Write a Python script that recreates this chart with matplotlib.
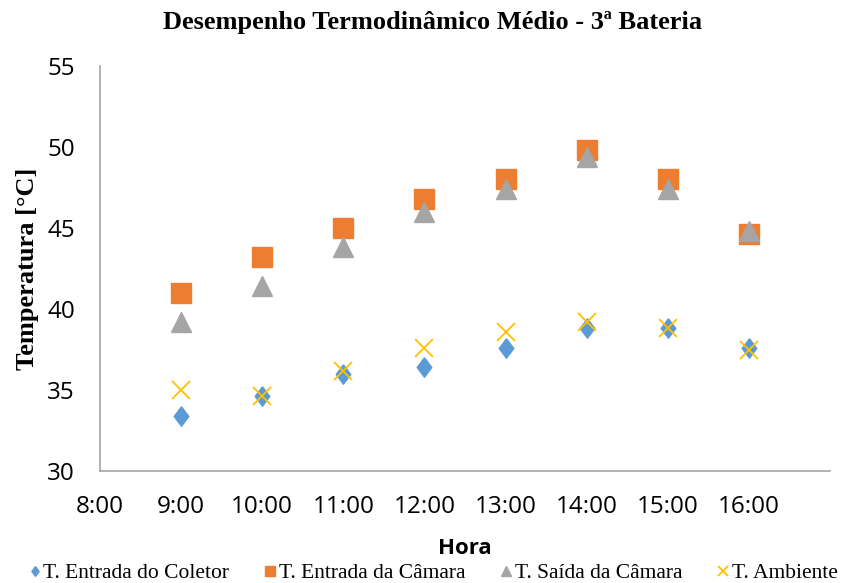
import numpy as np
import matplotlib
matplotlib.use("Agg")
import matplotlib.pyplot as plt

# dados (horas e temperaturas em °C)
horas = [9, 10, 11, 12, 13, 14, 15, 16]
t_entrada_coletor = [33.4, 34.6, 36.0, 36.4, 37.6, 38.8, 38.8, 37.6]
t_entrada_camara = [41.0, 43.2, 45.0, 46.8, 48.0, 49.8, 48.0, 44.6]
t_saida_camara = [39.2, 41.4, 43.8, 46.0, 47.4, 49.4, 47.4, 44.8]
t_ambiente = [35.0, 34.6, 36.2, 37.6, 38.6, 39.2, 38.8, 37.5]

rotulos_x = ['8:00', '9:00', '10:00', '11:00', '12:00', '13:00', '14:00', '15:00', '16:00']
ticks_x = [8, 9, 10, 11, 12, 13, 14, 15, 16]
ticks_y = [30, 35, 40, 45, 50, 55]

azul = '#5B9BD5'
laranja = '#ED7D31'
cinza = '#A5A5A5'
amarelo = '#FFC000'

serif = ['Liberation Serif', 'DejaVu Serif']
sans = ['Open Sans', 'DejaVu Sans']

losango = [(0, 1), (0.75, 0), (0, -1), (-0.75, 0), (0, 1)]

fig = plt.figure(figsize=(8.41, 5.83), dpi=100)
ax = fig.add_axes([100/841, 112/583, 730/841, 405/583])

ax.plot(horas, t_entrada_coletor, linestyle='none', marker=losango, markersize=14,
        color=azul, label='T. Entrada do Coletor')
ax.plot(horas, t_entrada_camara, linestyle='none', marker='s', markersize=14,
        color=laranja, label='T. Entrada da Câmara')
ax.plot(horas, t_saida_camara, linestyle='none', marker='^', markersize=14,
        color=cinza, label='T. Saída da Câmara')
ax.plot(horas, t_ambiente, linestyle='none', marker='x', markersize=13,
        markeredgewidth=1.3, color=amarelo, label='T. Ambiente')

ax.set_xlim(8, 17)
ax.set_ylim(30, 55)
ax.set_xticks(ticks_x)
ax.set_xticklabels(rotulos_x, family=sans, fontsize=17.5)
ax.set_yticks(ticks_y)
ax.set_yticklabels([str(v) for v in ticks_y], family=sans, fontsize=17.5)
ax.tick_params(axis='both', length=0)
ax.tick_params(axis='y', pad=18)
ax.tick_params(axis='x', pad=17)

for lado in ['top', 'right']:
    ax.spines[lado].set_visible(False)
for lado in ['left', 'bottom']:
    ax.spines[lado].set_color('#A6A6A6')
    ax.spines[lado].set_linewidth(1.2)

ax.set_xlabel('Hora', family=sans, fontsize=16, fontweight='bold', labelpad=14)
ax.set_ylabel('Temperatura [°C]', family=serif, fontsize=19, fontweight='bold', labelpad=6)

fig.text(0.514, 0.962, 'Desempenho Termodinâmico Médio - 3ª Bateria', family=serif,
         fontsize=19, fontweight='bold', ha='center', va='center')

handles, labels = ax.get_legend_handles_labels()
leg = fig.legend(handles, labels, loc='lower center', bbox_to_anchor=(0.515, -0.034), ncol=4,
                 frameon=False, prop={'family': serif, 'size': 15.5}, markerscale=0.5,
                 handlelength=0.6, handletextpad=0.1, columnspacing=1.6)

fig.savefig('out.png', dpi=100)
